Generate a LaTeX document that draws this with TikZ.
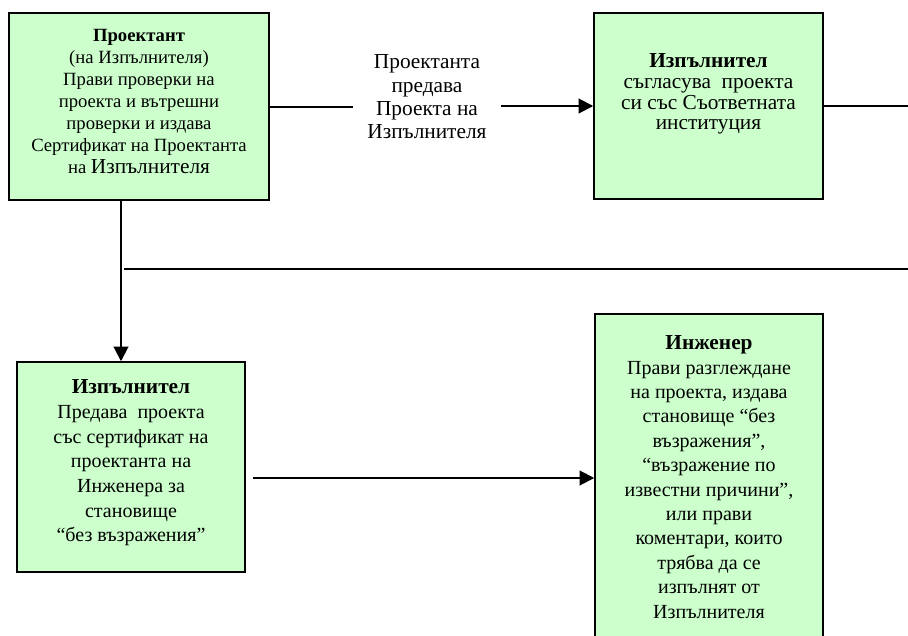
\documentclass[tikz,border=0pt]{standalone}
\usepackage{fontspec}
\setmainfont{Liberation Serif}
\usetikzlibrary{arrows.meta}
\definecolor{boxgreen}{RGB}{204,255,204}

\begin{document}
\begin{tikzpicture}[
      x=0.75pt, y=-0.75pt,
      green box/.style ={draw, fill=boxgreen, line width=1.1pt, align=center, inner sep=0pt},
      flow line/.style ={line width=1.5pt},
      flow arrow/.style ={flow line, -{Triangle[length=11pt,width=11pt]}}]
    \path[clip] (0,0) rectangle (908,636);
    \useasboundingbox (0,0) rectangle (908,636);
    \node[green box, minimum width=195pt, minimum height=140.25pt, text depth=8pt,
      font=\fontsize{14}{16.5}\selectfont] (designer) at (139,106.5)
      {\textbf{Проектант}\\(на Изпълнителя)\\Прави проверки на\\проекта и вътрешни\\проверки и издава\\Сертификат на Проектанта\\на {\fontsize{16}{16.5}\selectfont Изпълнителя}};
    \node[green box, minimum width=171.75pt, minimum height=139.5pt, text depth=21pt,
      font=\fontsize{16}{15.5}\selectfont] (contractor) at (708.5,106)
      {\textbf{Изпълнител}\\съгласува\ \ проекта\\си със Съответната\\институция};
    \node[green box, minimum width=171pt, minimum height=157.5pt, text depth=9pt,
      font=\fontsize{15}{18.5}\selectfont] (handover) at (131,467)
      {\textbf{\fontsize{16}{18.5}\selectfont Изпълнител}\\Предава\ \ проекта\\със сертификат на\\проектанта на\\Инженера за\\становище\\“без възражения”};
    \node[green box, minimum width=171pt, minimum height=244.5pt,
      font=\fontsize{15}{18.3}\selectfont] (engineer) at (709,477)
      {\textbf{\fontsize{16}{18.3}\selectfont Инженер}\\Прави разглеждане\\на проекта, издава\\становище “без\\възражения”,\\“възражение по\\известни причини”,\\или прави\\коментари, които\\трябва да се\\изпълнят от\\Изпълнителя};
    \node[align=center, inner xsep=11pt, font=\fontsize{16}{17.5}\selectfont] (passes) at (427,97)
      {Проектанта\\предава\\Проекта на\\Изпълнителя};
    \coordinate (right top) at (908,106);
    \coordinate (split a) at (124,269);
    \coordinate (split b) at (908,269);
    \coordinate (low start) at (253,478);

    \draw[flow line] (designer.east) -- (designer.east -| passes.west);
    \draw[flow arrow] (passes.east |- contractor.west) -- (contractor.west);
    \draw[flow line] (contractor.east) -- (right top);
    \draw[flow arrow] ([xshift=-13.5pt]designer.south) -- ([xshift=-7.5pt]handover.north);
    \draw[flow line] (split a) -- (split b);
    \draw[flow arrow] (low start) -- (low start -| engineer.west);
    \end{tikzpicture}
\end{document}
